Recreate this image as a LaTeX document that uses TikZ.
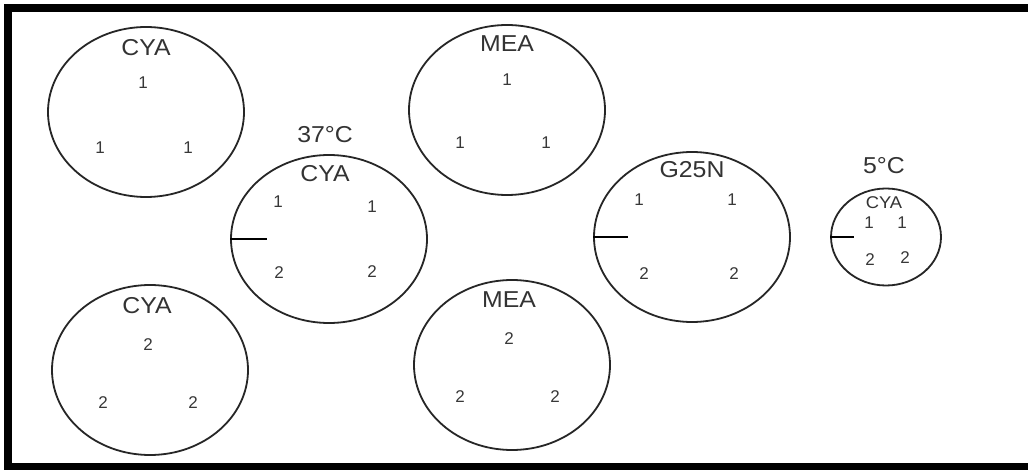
\documentclass[tikz,border=0pt]{standalone}
\usepackage{fontspec}
\setmainfont{Liberation Sans}
\usetikzlibrary{shapes.geometric}
\begin{document}
\begin{tikzpicture}[x=1pt,y=-1pt,
  plate/.style={draw=black!85,line width=1.8pt,ellipse,inner sep=0pt},
  big/.style={plate,minimum width=196pt,minimum height=170pt},
  small/.style={plate,minimum width=110pt,minimum height=97pt},
  lab/.style={text=black!80,font=\fontsize{23}{25}\selectfont,inner sep=0pt,xscale=1.08},
  slab/.style={text=black!80,font=\fontsize{17}{19}\selectfont,inner sep=0pt,xscale=1.08},
  num/.style={text=black!78,font=\fontsize{17}{19}\selectfont,inner sep=0pt},
  tick/.style={draw=black,line width=1.6pt}]
\useasboundingbox (0,0) rectangle (1028,470);
\fill[white] (0,0) rectangle (1028,470);
% frame
\draw[line width=8pt] (8,470) -- (8,8) -- (1028,8);
\draw[line width=7pt] (4,466.5) -- (1028,466.5);
% top-left CYA
\node[big] (p1) at (146,112) {};
\node[lab] (p1l) at (146,48) {CYA};
\node[num] (p1a) at (143,83) {1};
\node[num] (p1b) at (100,148) {1};
\node[num] (p1c) at (188,148) {1};
% top MEA
\node[big] (p2) at (507,110) {};
\node[lab] (p2l) at (507,44) {MEA};
\node[num] (p2a) at (507,80) {1};
\node[num] (p2b) at (460,143) {1};
\node[num] (p2c) at (546,143) {1};
% 37C CYA
\node[big,minimum height=168pt] (p3) at (329,239) {};
\node[lab] (p3t) at (325,135) {37°C};
\node[lab] (p3l) at (325,174) {CYA};
\node[num] (p3a) at (278,202) {1};
\node[num] (p3b) at (372,207) {1};
\node[num] (p3c) at (279,273) {2};
\node[num] (p3d) at (372,272) {2};
\coordinate (p3e) at (267,239);
\draw[tick] (p3.west) -- (p3e);
% G25N
\node[big] (p4) at (692,237) {};
\node[lab] (p4l) at (692,170) {G25N};
\node[num] (p4a) at (639,200) {1};
\node[num] (p4b) at (732,200) {1};
\node[num] (p4c) at (644,274) {2};
\node[num] (p4d) at (734,274) {2};
\coordinate (p4e) at (628,237);
\draw[tick] (p4.west) -- (p4e);
% 5C CYA
\node[small] (p5) at (886,237) {};
\node[lab] (p5t) at (884,166) {5°C};
\node[slab] (p5l) at (884,203) {CYA};
\node[num] (p5a) at (869,223) {1};
\node[num] (p5b) at (902,223) {1};
\node[num] (p5c) at (870,260) {2};
\node[num] (p5d) at (905,258) {2};
\coordinate (p5e) at (854,237);
\draw[tick] (p5.west) -- (p5e);
% bottom-left CYA
\node[big] (p6) at (150,370) {};
\node[lab] (p6l) at (147,306) {CYA};
\node[num] (p6a) at (148,345) {2};
\node[num] (p6b) at (103,403) {2};
\node[num] (p6c) at (193,403) {2};
% bottom MEA
\node[big] (p7) at (512,365) {};
\node[lab] (p7l) at (509,300) {MEA};
\node[num] (p7a) at (509,339) {2};
\node[num] (p7b) at (460,397) {2};
\node[num] (p7c) at (555,397) {2};
\end{tikzpicture}
\end{document}
